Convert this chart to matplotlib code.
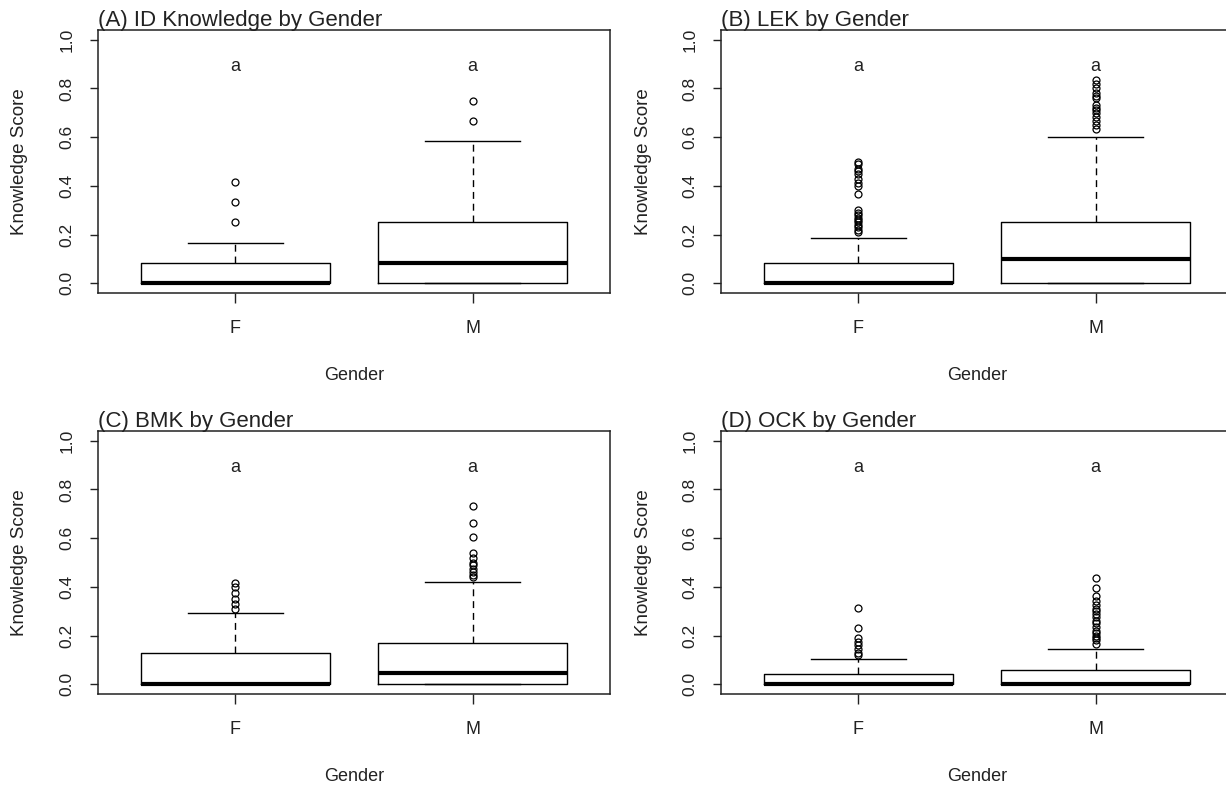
import matplotlib
matplotlib.use("Agg")
import matplotlib.pyplot as plt

plt.rcParams["font.family"] = ["Liberation Sans", "DejaVu Sans"]

groups = ["F", "M"]
panel_titles = ["(A) ID Knowledge by Gender", "(B) LEK by Gender",
                "(C) BMK by Gender", "(D) OCK by Gender"]
letters = ["a", "a"]

# five-number summaries: whislo, q1, median, q3, whishi
A_F = [0.0, 0.0, 0.0, 0.083, 0.167]
A_F_out = [0.25, 0.333, 0.417]
A_M = [0.0, 0.0, 0.083, 0.25, 0.583]
A_M_out = [0.667, 0.75]

B_F = [0.0, 0.0, 0.0, 0.083, 0.186]
B_F_out = [0.21, 0.22, 0.23, 0.24, 0.25, 0.26, 0.27, 0.28, 0.29, 0.30,
           0.365, 0.40, 0.41, 0.43, 0.45, 0.46, 0.47, 0.49, 0.50]
B_M = [0.0, 0.0, 0.10, 0.25, 0.60]
B_M_out = [0.633, 0.65, 0.667, 0.683, 0.70, 0.71, 0.72, 0.733, 0.76, 0.77,
           0.78, 0.80, 0.817, 0.833]

C_F = [0.0, 0.0, 0.0, 0.127, 0.293]
C_F_out = [0.31, 0.33, 0.35, 0.375, 0.40, 0.417]
C_M = [0.0, 0.0, 0.045, 0.168, 0.42]
C_M_out = [0.44, 0.45, 0.46, 0.475, 0.49, 0.50, 0.52, 0.54, 0.604, 0.663, 0.73]

D_F = [0.0, 0.0, 0.0, 0.042, 0.103]
D_F_out = [0.12, 0.13, 0.145, 0.16, 0.175, 0.19, 0.229, 0.312]
D_M = [0.0, 0.0, 0.0, 0.06, 0.144]
D_M_out = [0.166, 0.18, 0.19, 0.20, 0.21, 0.22, 0.235, 0.25, 0.26, 0.275,
           0.29, 0.30, 0.31, 0.325, 0.34, 0.364, 0.395, 0.436]

letter_y = 0.9
yticks = [0.0, 0.2, 0.4, 0.6, 0.8, 1.0]

panels = [
    (A_F, A_F_out, A_M, A_M_out),
    (B_F, B_F_out, B_M, B_M_out),
    (C_F, C_F_out, C_M, C_M_out),
    (D_F, D_F_out, D_M, D_M_out),
]

W, H = 1226, 787
fig = plt.figure(figsize=(W / 100, H / 100), dpi=100)
fig.patch.set_facecolor("white")

ax_w = 512
ax_h = 263
lefts = [98, 721, 98, 721]
tops = [30, 30, 431, 431]


def make_stats(s, out, label):
    return dict(whislo=s[0], q1=s[1], med=s[2], q3=s[3], whishi=s[4],
                fliers=out, label=label)


for i, (title, (sf, of, sm, om)) in enumerate(zip(panel_titles, panels)):
    l, t = lefts[i], tops[i]
    ax = fig.add_axes([l / W, (H - t - ax_h) / H, ax_w / W, ax_h / H])
    stats = [make_stats(sf, of, groups[0]), make_stats(sm, om, groups[1])]
    ax.bxp(stats, positions=[1, 2], widths=0.8, showfliers=True,
           boxprops=dict(color="black", linewidth=1.0),
           whiskerprops=dict(color="black", linewidth=1.0, linestyle=(0, (5, 3.5))),
           capprops=dict(color="black", linewidth=1.0),
           medianprops=dict(color="black", linewidth=3.0, solid_capstyle="butt"),
           flierprops=dict(marker="o", markerfacecolor="none",
                           markeredgecolor="black", markersize=5.0,
                           markeredgewidth=0.9, linestyle="none"),
           capwidths=0.4)
    ax.set_xlim(0.42, 2.58)
    ax.set_ylim(-0.04, 1.04)
    ax.set_yticks(yticks)
    ax.set_yticklabels([f"{v:.1f}" for v in yticks], rotation=90, va="center")
    ax.set_xticks([1, 2])
    ax.set_xticklabels(groups)
    ax.tick_params(axis="y", length=6, width=1.0, pad=11, labelsize=12.5,
                   colors="#222222")
    ax.tick_params(axis="x", length=7.5, width=1.0, pad=12, labelsize=13,
                   colors="#222222")
    for sp in ax.spines.values():
        sp.set_linewidth(1.1)
        sp.set_color("#222222")
    for x, lt in zip([1, 2], letters):
        ax.annotate(lt, xy=(x, letter_y), xycoords="data", xytext=(0, -2),
                    textcoords="offset points", ha="center", va="center",
                    fontsize=13, color="#222222")
    ax.annotate(title, xy=(0, 1), xycoords="axes fraction", xytext=(0, 3),
                textcoords="offset points", ha="left", va="baseline",
                fontsize=16, color="#222222")
    ax.text(0.5, -0.312, "Gender", transform=ax.transAxes, ha="center",
            va="center", fontsize=13, color="#222222")
    ax.text(-78 / ax_w, 0.5, "Knowledge Score", transform=ax.transAxes,
            ha="center", va="center", rotation=90, fontsize=13.5,
            color="#222222")

fig.savefig("out.png", dpi=100, facecolor="white")
